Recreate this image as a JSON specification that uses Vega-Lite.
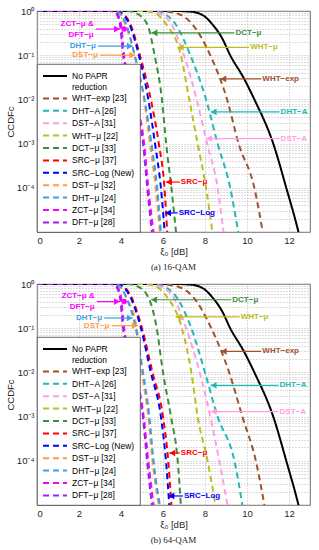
{
"$schema": "https://vega.github.io/schema/vega-lite/v6.json",
"padding": {"left": 4, "top": 5, "right": 2, "bottom": 2},
"background": "white",
"datasets": {
"curves": [
{"panel":"a","series":"No PAPR reduction","x":0,"y":1},
{"panel":"a","series":"No PAPR reduction","x":6.5,"y":1},
{"panel":"a","series":"No PAPR reduction","x":7.3,"y":0.97},
{"panel":"a","series":"No PAPR reduction","x":7.9,"y":0.8},
{"panel":"a","series":"No PAPR reduction","x":8.35,"y":0.5},
{"panel":"a","series":"No PAPR reduction","x":8.8,"y":0.25},
{"panel":"a","series":"No PAPR reduction","x":9.2,"y":0.1},
{"panel":"a","series":"No PAPR reduction","x":9.85,"y":0.03},
{"panel":"a","series":"No PAPR reduction","x":10.35,"y":0.01},
{"panel":"a","series":"No PAPR reduction","x":11.25,"y":0.001},
{"panel":"a","series":"No PAPR reduction","x":11.87,"y":0.0001},
{"panel":"a","series":"No PAPR reduction","x":12.45,"y":0.00001},
{"panel":"a","series":"No PAPR reduction","x":12.6,"y":0.000005},
{"panel":"a","series":"WHT−exp [23]","x":0,"y":1},
{"panel":"a","series":"WHT−exp [23]","x":5.8,"y":1},
{"panel":"a","series":"WHT−exp [23]","x":6.6,"y":0.9},
{"panel":"a","series":"WHT−exp [23]","x":7.4,"y":0.5},
{"panel":"a","series":"WHT−exp [23]","x":8.25,"y":0.1},
{"panel":"a","series":"WHT−exp [23]","x":9.05,"y":0.01},
{"panel":"a","series":"WHT−exp [23]","x":9.6,"y":0.001},
{"panel":"a","series":"WHT−exp [23]","x":10.35,"y":0.0001},
{"panel":"a","series":"WHT−exp [23]","x":10.75,"y":0.00001},
{"panel":"a","series":"DHT−A [26]","x":0,"y":1},
{"panel":"a","series":"DHT−A [26]","x":5.3,"y":1},
{"panel":"a","series":"DHT−A [26]","x":5.95,"y":0.9},
{"panel":"a","series":"DHT−A [26]","x":6.6,"y":0.5},
{"panel":"a","series":"DHT−A [26]","x":7.3,"y":0.1},
{"panel":"a","series":"DHT−A [26]","x":8.05,"y":0.01},
{"panel":"a","series":"DHT−A [26]","x":8.6,"y":0.001},
{"panel":"a","series":"DHT−A [26]","x":9.2,"y":0.0001},
{"panel":"a","series":"DHT−A [26]","x":9.58,"y":0.00001},
{"panel":"a","series":"DST−A [31]","x":0,"y":1},
{"panel":"a","series":"DST−A [31]","x":5.2,"y":1},
{"panel":"a","series":"DST−A [31]","x":5.8,"y":0.9},
{"panel":"a","series":"DST−A [31]","x":6.4,"y":0.5},
{"panel":"a","series":"DST−A [31]","x":7.0,"y":0.1},
{"panel":"a","series":"DST−A [31]","x":7.6,"y":0.01},
{"panel":"a","series":"DST−A [31]","x":8.1,"y":0.001},
{"panel":"a","series":"DST−A [31]","x":8.6,"y":0.0001},
{"panel":"a","series":"DST−A [31]","x":8.88,"y":0.00001},
{"panel":"a","series":"WHT−μ [22]","x":0,"y":1},
{"panel":"a","series":"WHT−μ [22]","x":5.0,"y":1},
{"panel":"a","series":"WHT−μ [22]","x":5.6,"y":0.9},
{"panel":"a","series":"WHT−μ [22]","x":6.15,"y":0.5},
{"panel":"a","series":"WHT−μ [22]","x":6.85,"y":0.1},
{"panel":"a","series":"WHT−μ [22]","x":7.25,"y":0.01},
{"panel":"a","series":"WHT−μ [22]","x":7.65,"y":0.001},
{"panel":"a","series":"WHT−μ [22]","x":8.05,"y":0.0001},
{"panel":"a","series":"WHT−μ [22]","x":8.35,"y":0.00001},
{"panel":"a","series":"DCT−μ [33]","x":0,"y":1},
{"panel":"a","series":"DCT−μ [33]","x":4.3,"y":1},
{"panel":"a","series":"DCT−μ [33]","x":4.7,"y":0.9},
{"panel":"a","series":"DCT−μ [33]","x":5.25,"y":0.5},
{"panel":"a","series":"DCT−μ [33]","x":5.6,"y":0.1},
{"panel":"a","series":"DCT−μ [33]","x":5.95,"y":0.01},
{"panel":"a","series":"DCT−μ [33]","x":6.15,"y":0.001},
{"panel":"a","series":"DCT−μ [33]","x":6.4,"y":0.0001},
{"panel":"a","series":"DCT−μ [33]","x":6.62,"y":0.00001},
{"panel":"a","series":"SRC−μ [37]","x":0,"y":1},
{"panel":"a","series":"SRC−μ [37]","x":3.75,"y":1},
{"panel":"a","series":"SRC−μ [37]","x":4.05,"y":0.9},
{"panel":"a","series":"SRC−μ [37]","x":4.45,"y":0.5},
{"panel":"a","series":"SRC−μ [37]","x":4.9,"y":0.1},
{"panel":"a","series":"SRC−μ [37]","x":5.42,"y":0.01},
{"panel":"a","series":"SRC−μ [37]","x":5.8,"y":0.001},
{"panel":"a","series":"SRC−μ [37]","x":6.07,"y":0.0001},
{"panel":"a","series":"SRC−μ [37]","x":6.2,"y":0.00001},
{"panel":"a","series":"SRC−Log (New)","x":0,"y":1},
{"panel":"a","series":"SRC−Log (New)","x":3.7,"y":1},
{"panel":"a","series":"SRC−Log (New)","x":4.0,"y":0.9},
{"panel":"a","series":"SRC−Log (New)","x":4.4,"y":0.5},
{"panel":"a","series":"SRC−Log (New)","x":4.85,"y":0.1},
{"panel":"a","series":"SRC−Log (New)","x":5.3,"y":0.01},
{"panel":"a","series":"SRC−Log (New)","x":5.62,"y":0.001},
{"panel":"a","series":"SRC−Log (New)","x":5.9,"y":0.0001},
{"panel":"a","series":"SRC−Log (New)","x":6.08,"y":0.00001},
{"panel":"a","series":"DST−μ [32]","x":0,"y":1},
{"panel":"a","series":"DST−μ [32]","x":3.6,"y":1},
{"panel":"a","series":"DST−μ [32]","x":3.9,"y":0.9},
{"panel":"a","series":"DST−μ [32]","x":4.2,"y":0.5},
{"panel":"a","series":"DST−μ [32]","x":4.65,"y":0.1},
{"panel":"a","series":"DST−μ [32]","x":5.1,"y":0.01},
{"panel":"a","series":"DST−μ [32]","x":5.38,"y":0.001},
{"panel":"a","series":"DST−μ [32]","x":5.65,"y":0.0001},
{"panel":"a","series":"DST−μ [32]","x":5.85,"y":0.00001},
{"panel":"a","series":"DHT−μ [24]","x":0,"y":1},
{"panel":"a","series":"DHT−μ [24]","x":3.65,"y":1},
{"panel":"a","series":"DHT−μ [24]","x":3.95,"y":0.9},
{"panel":"a","series":"DHT−μ [24]","x":4.25,"y":0.5},
{"panel":"a","series":"DHT−μ [24]","x":4.65,"y":0.1},
{"panel":"a","series":"DHT−μ [24]","x":5.12,"y":0.01},
{"panel":"a","series":"DHT−μ [24]","x":5.45,"y":0.001},
{"panel":"a","series":"DHT−μ [24]","x":5.72,"y":0.0001},
{"panel":"a","series":"DHT−μ [24]","x":5.9,"y":0.00001},
{"panel":"a","series":"ZCT−μ [34]","x":0,"y":1},
{"panel":"a","series":"ZCT−μ [34]","x":3.55,"y":1},
{"panel":"a","series":"ZCT−μ [34]","x":3.8,"y":0.9},
{"panel":"a","series":"ZCT−μ [34]","x":4.0,"y":0.5},
{"panel":"a","series":"ZCT−μ [34]","x":4.15,"y":0.1},
{"panel":"a","series":"ZCT−μ [34]","x":4.7,"y":0.01},
{"panel":"a","series":"ZCT−μ [34]","x":5.1,"y":0.001},
{"panel":"a","series":"ZCT−μ [34]","x":5.3,"y":0.0001},
{"panel":"a","series":"ZCT−μ [34]","x":5.55,"y":0.00001},
{"panel":"a","series":"DFT−μ [28]","x":0,"y":1},
{"panel":"a","series":"DFT−μ [28]","x":3.5,"y":1},
{"panel":"a","series":"DFT−μ [28]","x":3.75,"y":0.9},
{"panel":"a","series":"DFT−μ [28]","x":3.95,"y":0.5},
{"panel":"a","series":"DFT−μ [28]","x":4.1,"y":0.1},
{"panel":"a","series":"DFT−μ [28]","x":4.65,"y":0.01},
{"panel":"a","series":"DFT−μ [28]","x":5.05,"y":0.001},
{"panel":"a","series":"DFT−μ [28]","x":5.25,"y":0.0001},
{"panel":"a","series":"DFT−μ [28]","x":5.47,"y":0.00001},
{"panel":"b","series":"No PAPR reduction","x":0,"y":1},
{"panel":"b","series":"No PAPR reduction","x":6.5,"y":1},
{"panel":"b","series":"No PAPR reduction","x":7.3,"y":0.97},
{"panel":"b","series":"No PAPR reduction","x":7.9,"y":0.8},
{"panel":"b","series":"No PAPR reduction","x":8.35,"y":0.5},
{"panel":"b","series":"No PAPR reduction","x":8.8,"y":0.25},
{"panel":"b","series":"No PAPR reduction","x":9.2,"y":0.1},
{"panel":"b","series":"No PAPR reduction","x":9.85,"y":0.03},
{"panel":"b","series":"No PAPR reduction","x":10.35,"y":0.01},
{"panel":"b","series":"No PAPR reduction","x":11.25,"y":0.001},
{"panel":"b","series":"No PAPR reduction","x":11.87,"y":0.0001},
{"panel":"b","series":"No PAPR reduction","x":12.45,"y":0.00001},
{"panel":"b","series":"No PAPR reduction","x":12.6,"y":0.000005},
{"panel":"b","series":"WHT−exp [23]","x":0,"y":1},
{"panel":"b","series":"WHT−exp [23]","x":5.8,"y":1},
{"panel":"b","series":"WHT−exp [23]","x":6.6,"y":0.9},
{"panel":"b","series":"WHT−exp [23]","x":7.45,"y":0.5},
{"panel":"b","series":"WHT−exp [23]","x":8.3,"y":0.1},
{"panel":"b","series":"WHT−exp [23]","x":9.15,"y":0.01},
{"panel":"b","series":"WHT−exp [23]","x":9.78,"y":0.001},
{"panel":"b","series":"WHT−exp [23]","x":10.42,"y":0.0001},
{"panel":"b","series":"WHT−exp [23]","x":10.83,"y":0.00001},
{"panel":"b","series":"DHT−A [26]","x":0,"y":1},
{"panel":"b","series":"DHT−A [26]","x":5.3,"y":1},
{"panel":"b","series":"DHT−A [26]","x":5.95,"y":0.9},
{"panel":"b","series":"DHT−A [26]","x":6.65,"y":0.5},
{"panel":"b","series":"DHT−A [26]","x":7.35,"y":0.1},
{"panel":"b","series":"DHT−A [26]","x":8.0,"y":0.01},
{"panel":"b","series":"DHT−A [26]","x":8.6,"y":0.001},
{"panel":"b","series":"DHT−A [26]","x":9.4,"y":0.0001},
{"panel":"b","series":"DHT−A [26]","x":9.78,"y":0.00001},
{"panel":"b","series":"DST−A [31]","x":0,"y":1},
{"panel":"b","series":"DST−A [31]","x":5.2,"y":1},
{"panel":"b","series":"DST−A [31]","x":5.8,"y":0.9},
{"panel":"b","series":"DST−A [31]","x":6.5,"y":0.5},
{"panel":"b","series":"DST−A [31]","x":7.1,"y":0.1},
{"panel":"b","series":"DST−A [31]","x":7.75,"y":0.01},
{"panel":"b","series":"DST−A [31]","x":8.25,"y":0.001},
{"panel":"b","series":"DST−A [31]","x":8.68,"y":0.0001},
{"panel":"b","series":"DST−A [31]","x":9.07,"y":0.00001},
{"panel":"b","series":"WHT−μ [22]","x":0,"y":1},
{"panel":"b","series":"WHT−μ [22]","x":5.0,"y":1},
{"panel":"b","series":"WHT−μ [22]","x":5.6,"y":0.9},
{"panel":"b","series":"WHT−μ [22]","x":6.2,"y":0.5},
{"panel":"b","series":"WHT−μ [22]","x":6.9,"y":0.1},
{"panel":"b","series":"WHT−μ [22]","x":7.35,"y":0.01},
{"panel":"b","series":"WHT−μ [22]","x":7.65,"y":0.001},
{"panel":"b","series":"WHT−μ [22]","x":8.12,"y":0.0001},
{"panel":"b","series":"WHT−μ [22]","x":8.5,"y":0.00001},
{"panel":"b","series":"DCT−μ [33]","x":0,"y":1},
{"panel":"b","series":"DCT−μ [33]","x":4.3,"y":1},
{"panel":"b","series":"DCT−μ [33]","x":4.75,"y":0.9},
{"panel":"b","series":"DCT−μ [33]","x":5.3,"y":0.5},
{"panel":"b","series":"DCT−μ [33]","x":5.7,"y":0.1},
{"panel":"b","series":"DCT−μ [33]","x":6.0,"y":0.01},
{"panel":"b","series":"DCT−μ [33]","x":6.38,"y":0.001},
{"panel":"b","series":"DCT−μ [33]","x":6.7,"y":0.0001},
{"panel":"b","series":"DCT−μ [33]","x":6.85,"y":0.00001},
{"panel":"b","series":"SRC−μ [37]","x":0,"y":1},
{"panel":"b","series":"SRC−μ [37]","x":3.8,"y":1},
{"panel":"b","series":"SRC−μ [37]","x":4.1,"y":0.9},
{"panel":"b","series":"SRC−μ [37]","x":4.5,"y":0.5},
{"panel":"b","series":"SRC−μ [37]","x":5.0,"y":0.1},
{"panel":"b","series":"SRC−μ [37]","x":5.5,"y":0.01},
{"panel":"b","series":"SRC−μ [37]","x":6.0,"y":0.001},
{"panel":"b","series":"SRC−μ [37]","x":6.25,"y":0.0001},
{"panel":"b","series":"SRC−μ [37]","x":6.4,"y":0.00001},
{"panel":"b","series":"SRC−Log (New)","x":0,"y":1},
{"panel":"b","series":"SRC−Log (New)","x":3.75,"y":1},
{"panel":"b","series":"SRC−Log (New)","x":4.05,"y":0.9},
{"panel":"b","series":"SRC−Log (New)","x":4.45,"y":0.5},
{"panel":"b","series":"SRC−Log (New)","x":4.95,"y":0.1},
{"panel":"b","series":"SRC−Log (New)","x":5.42,"y":0.01},
{"panel":"b","series":"SRC−Log (New)","x":5.9,"y":0.001},
{"panel":"b","series":"SRC−Log (New)","x":6.14,"y":0.0001},
{"panel":"b","series":"SRC−Log (New)","x":6.3,"y":0.00001},
{"panel":"b","series":"DST−μ [32]","x":0,"y":1},
{"panel":"b","series":"DST−μ [32]","x":3.6,"y":1},
{"panel":"b","series":"DST−μ [32]","x":3.9,"y":0.9},
{"panel":"b","series":"DST−μ [32]","x":4.25,"y":0.5},
{"panel":"b","series":"DST−μ [32]","x":4.75,"y":0.1},
{"panel":"b","series":"DST−μ [32]","x":5.0,"y":0.01},
{"panel":"b","series":"DST−μ [32]","x":5.3,"y":0.001},
{"panel":"b","series":"DST−μ [32]","x":5.5,"y":0.0001},
{"panel":"b","series":"DST−μ [32]","x":5.8,"y":0.00001},
{"panel":"b","series":"DHT−μ [24]","x":0,"y":1},
{"panel":"b","series":"DHT−μ [24]","x":3.65,"y":1},
{"panel":"b","series":"DHT−μ [24]","x":3.95,"y":0.9},
{"panel":"b","series":"DHT−μ [24]","x":4.25,"y":0.5},
{"panel":"b","series":"DHT−μ [24]","x":4.7,"y":0.1},
{"panel":"b","series":"DHT−μ [24]","x":5.05,"y":0.01},
{"panel":"b","series":"DHT−μ [24]","x":5.35,"y":0.001},
{"panel":"b","series":"DHT−μ [24]","x":5.55,"y":0.0001},
{"panel":"b","series":"DHT−μ [24]","x":5.85,"y":0.00001},
{"panel":"b","series":"ZCT−μ [34]","x":0,"y":1},
{"panel":"b","series":"ZCT−μ [34]","x":3.55,"y":1},
{"panel":"b","series":"ZCT−μ [34]","x":3.8,"y":0.9},
{"panel":"b","series":"ZCT−μ [34]","x":4.0,"y":0.5},
{"panel":"b","series":"ZCT−μ [34]","x":4.15,"y":0.1},
{"panel":"b","series":"ZCT−μ [34]","x":4.7,"y":0.01},
{"panel":"b","series":"ZCT−μ [34]","x":5.08,"y":0.001},
{"panel":"b","series":"ZCT−μ [34]","x":5.3,"y":0.0001},
{"panel":"b","series":"ZCT−μ [34]","x":5.55,"y":0.00001},
{"panel":"b","series":"DFT−μ [28]","x":0,"y":1},
{"panel":"b","series":"DFT−μ [28]","x":3.5,"y":1},
{"panel":"b","series":"DFT−μ [28]","x":3.75,"y":0.9},
{"panel":"b","series":"DFT−μ [28]","x":3.95,"y":0.5},
{"panel":"b","series":"DFT−μ [28]","x":4.1,"y":0.1},
{"panel":"b","series":"DFT−μ [28]","x":4.65,"y":0.01},
{"panel":"b","series":"DFT−μ [28]","x":5.04,"y":0.001},
{"panel":"b","series":"DFT−μ [28]","x":5.24,"y":0.0001},
{"panel":"b","series":"DFT−μ [28]","x":5.47,"y":0.00001}
],
"notes": [
{"panel":"a","series":"ZCT−μ [34]","label":"ZCT−μ &\nDFT−μ","y":0.39,"xLabel":2.7,"xTail":2.8,"xTip":3.95,"dir":"right","xMark":4.15},
{"panel":"a","series":"DHT−μ [24]","label":"DHT−μ","y":0.16,"xLabel":2.8,"xTail":2.9,"xTip":4.56,"dir":"right"},
{"panel":"a","series":"DST−μ [32]","label":"DST−μ","y":0.1,"xLabel":2.9,"xTail":3.0,"xTip":4.68,"dir":"right"},
{"panel":"a","series":"DCT−μ [33]","label":"DCT−μ","y":0.32,"xLabel":9.45,"xTail":9.4,"xTip":5.45,"dir":"left"},
{"panel":"a","series":"WHT−μ [22]","label":"WHT−μ","y":0.15,"xLabel":10.15,"xTail":10.1,"xTip":6.7,"dir":"left"},
{"panel":"a","series":"WHT−exp [23]","label":"WHT−exp","y":0.029,"xLabel":10.73,"xTail":10.68,"xTip":8.73,"dir":"left"},
{"panel":"a","series":"DHT−A [26]","label":"DHT−A","y":0.0052,"xLabel":11.6,"xTail":11.55,"xTip":8.27,"dir":"left"},
{"panel":"a","series":"DST−A [31]","label":"DST−A","y":0.0013,"xLabel":11.6,"xTail":11.55,"xTip":8.05,"dir":"left"},
{"panel":"a","series":"SRC−μ [37]","label":"SRC−μ","y":0.000135,"xLabel":6.85,"xTail":6.8,"xTip":6.14,"dir":"left"},
{"panel":"a","series":"SRC−Log (New)","label":"SRC−Log","y":0.000027,"xLabel":6.75,"xTail":6.7,"xTip":6.1,"dir":"left"},
{"panel":"b","series":"ZCT−μ [34]","label":"ZCT−μ &\nDFT−μ","y":0.4,"xLabel":2.75,"xTail":2.85,"xTip":3.95,"dir":"right","xMark":4.15},
{"panel":"b","series":"DHT−μ [24]","label":"DHT−μ","y":0.17,"xLabel":3.1,"xTail":3.2,"xTip":4.56,"dir":"right"},
{"panel":"b","series":"DST−μ [32]","label":"DST−μ","y":0.114,"xLabel":3.45,"xTail":3.55,"xTip":4.8,"dir":"right"},
{"panel":"b","series":"DCT−μ [33]","label":"DCT−μ","y":0.44,"xLabel":9.3,"xTail":9.25,"xTip":5.43,"dir":"left"},
{"panel":"b","series":"WHT−μ [22]","label":"WHT−μ","y":0.18,"xLabel":9.7,"xTail":9.65,"xTip":6.6,"dir":"left"},
{"panel":"b","series":"WHT−exp [23]","label":"WHT−exp","y":0.03,"xLabel":10.73,"xTail":10.68,"xTip":8.75,"dir":"left"},
{"panel":"b","series":"DHT−A [26]","label":"DHT−A","y":0.0051,"xLabel":11.55,"xTail":11.5,"xTip":8.27,"dir":"left"},
{"panel":"b","series":"DST−A [31]","label":"DST−A","y":0.0013,"xLabel":11.55,"xTail":11.5,"xTip":8.27,"dir":"left"},
{"panel":"b","series":"SRC−μ [37]","label":"SRC−μ","y":0.00015,"xLabel":6.85,"xTail":6.8,"xTip":6.3,"dir":"left"},
{"panel":"b","series":"SRC−Log (New)","label":"SRC−Log","y":0.000016,"xLabel":7.0,"xTail":6.95,"xTip":6.26,"dir":"left"}
]
},
"vconcat": [
{
"width": 273, "height": 221,
"title": {"text": "(a) 16-QAM", "orient": "bottom", "frame": "group", "offset": 7},
"layer": [
{"data": {"name": "curves"}, "transform": [{"filter": "datum.panel == 'a'"}],
 "mark": {"type": "line", "clip": true, "interpolate": "monotone", "strokeWidth": 2},
 "encoding": {
  "x": {"field": "x", "type": "quantitative", "scale": {"domain": [0, 13], "nice": false, "zero": false},
        "axis": {"values": [0,0.5,1,1.5,2,2.5,3,3.5,4,4.5,5,5.5,6,6.5,7,7.5,8,8.5,9,9.5,10,10.5,11,11.5,12,12.5,13], "format": "d", "labelExpr": "datum.value % 2 == 0 && datum.value < 13 ? datum.label : ''", "title": "ξ₀  [dB]"}},
  "y": {"field": "y", "type": "quantitative", "scale": {"type": "log", "domain": [0.00001, 1], "nice": false},
        "axis": {"values": [0.00001,0.00002,0.00003,0.00004,0.00005,0.00006,0.00007,0.00008,0.00009,0.0001,0.0002,0.0003,0.0004,0.0005,0.0006,0.0007,0.0008,0.0009,0.001,0.002,0.003,0.004,0.005,0.006,0.007,0.008,0.009,0.01,0.02,0.03,0.04,0.05,0.06,0.07,0.08,0.09,0.1,0.2,0.3,0.4,0.5,0.6,0.7,0.8,0.9,1],
                 "labelExpr": "datum.value == 1 ? '10⁰' : datum.value == 0.1 ? '10⁻¹' : datum.value == 0.01 ? '10⁻²' : datum.value == 0.001 ? '10⁻³' : datum.value == 0.0001 ? '10⁻⁴' : ''", "title": "CCDFc"}},
  "color": {"field": "series", "type": "nominal",
            "scale": {"domain": ["No PAPR reduction","WHT−exp [23]","DHT−A [26]","DST−A [31]","WHT−μ [22]","DCT−μ [33]","SRC−μ [37]","SRC−Log (New)","DST−μ [32]","DHT−μ [24]","ZCT−μ [34]","DFT−μ [28]"],
                      "range": ["#000000","#A0522D","#20B8B8","#FF9EE6","#BDBD1E","#3A8F3A","#FF0000","#0000FF","#FF9A45","#3D9EE0","#FF00FF","#A020F0"]},
            "legend": {"title": null, "labelExpr": "datum.label == 'No PAPR reduction' ? ['No PAPR', 'reduction'] : datum.label"}},
  "strokeDash": {"field": "series", "type": "nominal",
            "scale": {"domain": ["No PAPR reduction","WHT−exp [23]","DHT−A [26]","DST−A [31]","WHT−μ [22]","DCT−μ [33]","SRC−μ [37]","SRC−Log (New)","DST−μ [32]","DHT−μ [24]","ZCT−μ [34]","DFT−μ [28]"],
                      "range": [[1,0],[6,4],[6,4],[6,4],[6,4],[6,4],[6,4],[6,4],[6,4],[6,4],[6,4],[6,4]]},
            "legend": {"title": null, "labelExpr": "datum.label == 'No PAPR reduction' ? ['No PAPR', 'reduction'] : datum.label"}}
 }},
{"data": {"name": "notes"}, "transform": [{"filter": "datum.panel == 'a'"}],
 "mark": {"type": "rule", "strokeWidth": 1.2},
 "encoding": {
  "x": {"field": "xTail", "type": "quantitative", "scale": {"domain": [0, 13], "nice": false, "zero": false}},
  "x2": {"field": "xTip"},
  "y": {"field": "y", "type": "quantitative", "scale": {"type": "log", "domain": [0.00001, 1], "nice": false}},
  "color": {"field": "series", "type": "nominal", "legend": null,
            "scale": {"domain": ["No PAPR reduction","WHT−exp [23]","DHT−A [26]","DST−A [31]","WHT−μ [22]","DCT−μ [33]","SRC−μ [37]","SRC−Log (New)","DST−μ [32]","DHT−μ [24]","ZCT−μ [34]","DFT−μ [28]"],
                      "range": ["#000000","#A0522D","#20B8B8","#FF9EE6","#BDBD1E","#3A8F3A","#FF0000","#0000FF","#FF9A45","#3D9EE0","#FF00FF","#A020F0"]}}
 }},
{"data": {"name": "notes"}, "transform": [{"filter": "datum.panel == 'a' && datum.dir == 'right'"}],
 "mark": {"type": "point", "shape": "triangle-right", "filled": true, "size": 45, "opacity": 1, "xOffset": -3},
 "encoding": {
  "x": {"field": "xTip", "type": "quantitative", "scale": {"domain": [0, 13], "nice": false, "zero": false}},
  "y": {"field": "y", "type": "quantitative", "scale": {"type": "log", "domain": [0.00001, 1], "nice": false}},
  "color": {"field": "series", "type": "nominal", "legend": null,
            "scale": {"domain": ["No PAPR reduction","WHT−exp [23]","DHT−A [26]","DST−A [31]","WHT−μ [22]","DCT−μ [33]","SRC−μ [37]","SRC−Log (New)","DST−μ [32]","DHT−μ [24]","ZCT−μ [34]","DFT−μ [28]"],
                      "range": ["#000000","#A0522D","#20B8B8","#FF9EE6","#BDBD1E","#3A8F3A","#FF0000","#0000FF","#FF9A45","#3D9EE0","#FF00FF","#A020F0"]}}
 }},
{"data": {"name": "notes"}, "transform": [{"filter": "datum.panel == 'a' && datum.dir == 'left'"}],
 "mark": {"type": "point", "shape": "triangle-left", "filled": true, "size": 45, "opacity": 1, "xOffset": 3},
 "encoding": {
  "x": {"field": "xTip", "type": "quantitative", "scale": {"domain": [0, 13], "nice": false, "zero": false}},
  "y": {"field": "y", "type": "quantitative", "scale": {"type": "log", "domain": [0.00001, 1], "nice": false}},
  "color": {"field": "series", "type": "nominal", "legend": null,
            "scale": {"domain": ["No PAPR reduction","WHT−exp [23]","DHT−A [26]","DST−A [31]","WHT−μ [22]","DCT−μ [33]","SRC−μ [37]","SRC−Log (New)","DST−μ [32]","DHT−μ [24]","ZCT−μ [34]","DFT−μ [28]"],
                      "range": ["#000000","#A0522D","#20B8B8","#FF9EE6","#BDBD1E","#3A8F3A","#FF0000","#0000FF","#FF9A45","#3D9EE0","#FF00FF","#A020F0"]}}
 }},
{"data": {"name": "notes"}, "transform": [{"filter": "datum.panel == 'a' && isValid(datum.xMark)"}],
 "mark": {"type": "point", "shape": "circle", "filled": true, "size": 30, "opacity": 1},
 "encoding": {
  "x": {"field": "xMark", "type": "quantitative", "scale": {"domain": [0, 13], "nice": false, "zero": false}},
  "y": {"field": "y", "type": "quantitative", "scale": {"type": "log", "domain": [0.00001, 1], "nice": false}},
  "color": {"field": "series", "type": "nominal", "legend": null,
            "scale": {"domain": ["No PAPR reduction","WHT−exp [23]","DHT−A [26]","DST−A [31]","WHT−μ [22]","DCT−μ [33]","SRC−μ [37]","SRC−Log (New)","DST−μ [32]","DHT−μ [24]","ZCT−μ [34]","DFT−μ [28]"],
                      "range": ["#000000","#A0522D","#20B8B8","#FF9EE6","#BDBD1E","#3A8F3A","#FF0000","#0000FF","#FF9A45","#3D9EE0","#FF00FF","#A020F0"]}}
 }},
{"data": {"name": "notes"}, "transform": [{"filter": "datum.panel == 'a' && datum.dir == 'right' && !isValid(datum.xMark)"}],
 "mark": {"type": "text", "align": "right", "baseline": "middle", "fontSize": 8, "fontWeight": "bold"},
 "encoding": {
  "x": {"field": "xLabel", "type": "quantitative", "scale": {"domain": [0, 13], "nice": false, "zero": false}},
  "y": {"field": "y", "type": "quantitative", "scale": {"type": "log", "domain": [0.00001, 1], "nice": false}},
  "text": {"field": "label"},
  "color": {"field": "series", "type": "nominal", "legend": null,
            "scale": {"domain": ["No PAPR reduction","WHT−exp [23]","DHT−A [26]","DST−A [31]","WHT−μ [22]","DCT−μ [33]","SRC−μ [37]","SRC−Log (New)","DST−μ [32]","DHT−μ [24]","ZCT−μ [34]","DFT−μ [28]"],
                      "range": ["#000000","#A0522D","#20B8B8","#FF9EE6","#BDBD1E","#3A8F3A","#FF0000","#0000FF","#FF9A45","#3D9EE0","#FF00FF","#A020F0"]}}
 }},
{"data": {"name": "notes"}, "transform": [{"filter": "datum.panel == 'a' && isValid(datum.xMark)"}],
 "mark": {"type": "text", "align": "right", "baseline": "middle", "fontSize": 8, "fontWeight": "bold", "lineBreak": "\n", "lineHeight": 11, "dy": -5.5},
 "encoding": {
  "x": {"field": "xLabel", "type": "quantitative", "scale": {"domain": [0, 13], "nice": false, "zero": false}},
  "y": {"field": "y", "type": "quantitative", "scale": {"type": "log", "domain": [0.00001, 1], "nice": false}},
  "text": {"field": "label"},
  "color": {"field": "series", "type": "nominal", "legend": null,
            "scale": {"domain": ["No PAPR reduction","WHT−exp [23]","DHT−A [26]","DST−A [31]","WHT−μ [22]","DCT−μ [33]","SRC−μ [37]","SRC−Log (New)","DST−μ [32]","DHT−μ [24]","ZCT−μ [34]","DFT−μ [28]"],
                      "range": ["#000000","#A0522D","#20B8B8","#FF9EE6","#BDBD1E","#3A8F3A","#FF0000","#0000FF","#FF9A45","#3D9EE0","#FF00FF","#A020F0"]}}
 }},
{"data": {"name": "notes"}, "transform": [{"filter": "datum.panel == 'a' && datum.dir == 'left'"}],
 "mark": {"type": "text", "align": "left", "baseline": "middle", "fontSize": 8, "fontWeight": "bold"},
 "encoding": {
  "x": {"field": "xLabel", "type": "quantitative", "scale": {"domain": [0, 13], "nice": false, "zero": false}},
  "y": {"field": "y", "type": "quantitative", "scale": {"type": "log", "domain": [0.00001, 1], "nice": false}},
  "text": {"field": "label"},
  "color": {"field": "series", "type": "nominal", "legend": null,
            "scale": {"domain": ["No PAPR reduction","WHT−exp [23]","DHT−A [26]","DST−A [31]","WHT−μ [22]","DCT−μ [33]","SRC−μ [37]","SRC−Log (New)","DST−μ [32]","DHT−μ [24]","ZCT−μ [34]","DFT−μ [28]"],
                      "range": ["#000000","#A0522D","#20B8B8","#FF9EE6","#BDBD1E","#3A8F3A","#FF0000","#0000FF","#FF9A45","#3D9EE0","#FF00FF","#A020F0"]}}
 }}
]
},
{
"width": 273, "height": 221,
"title": {"text": "(b) 64-QAM", "orient": "bottom", "frame": "group", "offset": 7},
"layer": [
{"data": {"name": "curves"}, "transform": [{"filter": "datum.panel == 'b'"}],
 "mark": {"type": "line", "clip": true, "interpolate": "monotone", "strokeWidth": 2},
 "encoding": {
  "x": {"field": "x", "type": "quantitative", "scale": {"domain": [0, 13], "nice": false, "zero": false},
        "axis": {"values": [0,0.5,1,1.5,2,2.5,3,3.5,4,4.5,5,5.5,6,6.5,7,7.5,8,8.5,9,9.5,10,10.5,11,11.5,12,12.5,13], "format": "d", "labelExpr": "datum.value % 2 == 0 && datum.value < 13 ? datum.label : ''", "title": "ξ₀  [dB]"}},
  "y": {"field": "y", "type": "quantitative", "scale": {"type": "log", "domain": [0.00001, 1], "nice": false},
        "axis": {"values": [0.00001,0.00002,0.00003,0.00004,0.00005,0.00006,0.00007,0.00008,0.00009,0.0001,0.0002,0.0003,0.0004,0.0005,0.0006,0.0007,0.0008,0.0009,0.001,0.002,0.003,0.004,0.005,0.006,0.007,0.008,0.009,0.01,0.02,0.03,0.04,0.05,0.06,0.07,0.08,0.09,0.1,0.2,0.3,0.4,0.5,0.6,0.7,0.8,0.9,1],
                 "labelExpr": "datum.value == 1 ? '10⁰' : datum.value == 0.1 ? '10⁻¹' : datum.value == 0.01 ? '10⁻²' : datum.value == 0.001 ? '10⁻³' : datum.value == 0.0001 ? '10⁻⁴' : ''", "title": "CCDFc"}},
  "color": {"field": "series", "type": "nominal",
            "scale": {"domain": ["No PAPR reduction","WHT−exp [23]","DHT−A [26]","DST−A [31]","WHT−μ [22]","DCT−μ [33]","SRC−μ [37]","SRC−Log (New)","DST−μ [32]","DHT−μ [24]","ZCT−μ [34]","DFT−μ [28]"],
                      "range": ["#000000","#A0522D","#20B8B8","#FF9EE6","#BDBD1E","#3A8F3A","#FF0000","#0000FF","#FF9A45","#3D9EE0","#FF00FF","#A020F0"]},
            "legend": {"title": null, "labelExpr": "datum.label == 'No PAPR reduction' ? ['No PAPR', 'reduction'] : datum.label"}},
  "strokeDash": {"field": "series", "type": "nominal",
            "scale": {"domain": ["No PAPR reduction","WHT−exp [23]","DHT−A [26]","DST−A [31]","WHT−μ [22]","DCT−μ [33]","SRC−μ [37]","SRC−Log (New)","DST−μ [32]","DHT−μ [24]","ZCT−μ [34]","DFT−μ [28]"],
                      "range": [[1,0],[6,4],[6,4],[6,4],[6,4],[6,4],[6,4],[6,4],[6,4],[6,4],[6,4],[6,4]]},
            "legend": {"title": null, "labelExpr": "datum.label == 'No PAPR reduction' ? ['No PAPR', 'reduction'] : datum.label"}}
 }},
{"data": {"name": "notes"}, "transform": [{"filter": "datum.panel == 'b'"}],
 "mark": {"type": "rule", "strokeWidth": 1.2},
 "encoding": {
  "x": {"field": "xTail", "type": "quantitative", "scale": {"domain": [0, 13], "nice": false, "zero": false}},
  "x2": {"field": "xTip"},
  "y": {"field": "y", "type": "quantitative", "scale": {"type": "log", "domain": [0.00001, 1], "nice": false}},
  "color": {"field": "series", "type": "nominal", "legend": null,
            "scale": {"domain": ["No PAPR reduction","WHT−exp [23]","DHT−A [26]","DST−A [31]","WHT−μ [22]","DCT−μ [33]","SRC−μ [37]","SRC−Log (New)","DST−μ [32]","DHT−μ [24]","ZCT−μ [34]","DFT−μ [28]"],
                      "range": ["#000000","#A0522D","#20B8B8","#FF9EE6","#BDBD1E","#3A8F3A","#FF0000","#0000FF","#FF9A45","#00D8F0","#FF00FF","#A020F0"]}}
 }},
{"data": {"name": "notes"}, "transform": [{"filter": "datum.panel == 'b' && datum.dir == 'right'"}],
 "mark": {"type": "point", "shape": "triangle-right", "filled": true, "size": 45, "opacity": 1, "xOffset": -3},
 "encoding": {
  "x": {"field": "xTip", "type": "quantitative", "scale": {"domain": [0, 13], "nice": false, "zero": false}},
  "y": {"field": "y", "type": "quantitative", "scale": {"type": "log", "domain": [0.00001, 1], "nice": false}},
  "color": {"field": "series", "type": "nominal", "legend": null,
            "scale": {"domain": ["No PAPR reduction","WHT−exp [23]","DHT−A [26]","DST−A [31]","WHT−μ [22]","DCT−μ [33]","SRC−μ [37]","SRC−Log (New)","DST−μ [32]","DHT−μ [24]","ZCT−μ [34]","DFT−μ [28]"],
                      "range": ["#000000","#A0522D","#20B8B8","#FF9EE6","#BDBD1E","#3A8F3A","#FF0000","#0000FF","#FF9A45","#00D8F0","#FF00FF","#A020F0"]}}
 }},
{"data": {"name": "notes"}, "transform": [{"filter": "datum.panel == 'b' && datum.dir == 'left'"}],
 "mark": {"type": "point", "shape": "triangle-left", "filled": true, "size": 45, "opacity": 1, "xOffset": 3},
 "encoding": {
  "x": {"field": "xTip", "type": "quantitative", "scale": {"domain": [0, 13], "nice": false, "zero": false}},
  "y": {"field": "y", "type": "quantitative", "scale": {"type": "log", "domain": [0.00001, 1], "nice": false}},
  "color": {"field": "series", "type": "nominal", "legend": null,
            "scale": {"domain": ["No PAPR reduction","WHT−exp [23]","DHT−A [26]","DST−A [31]","WHT−μ [22]","DCT−μ [33]","SRC−μ [37]","SRC−Log (New)","DST−μ [32]","DHT−μ [24]","ZCT−μ [34]","DFT−μ [28]"],
                      "range": ["#000000","#A0522D","#20B8B8","#FF9EE6","#BDBD1E","#3A8F3A","#FF0000","#0000FF","#FF9A45","#00D8F0","#FF00FF","#A020F0"]}}
 }},
{"data": {"name": "notes"}, "transform": [{"filter": "datum.panel == 'b' && isValid(datum.xMark)"}],
 "mark": {"type": "point", "shape": "circle", "filled": true, "size": 30, "opacity": 1},
 "encoding": {
  "x": {"field": "xMark", "type": "quantitative", "scale": {"domain": [0, 13], "nice": false, "zero": false}},
  "y": {"field": "y", "type": "quantitative", "scale": {"type": "log", "domain": [0.00001, 1], "nice": false}},
  "color": {"field": "series", "type": "nominal", "legend": null,
            "scale": {"domain": ["No PAPR reduction","WHT−exp [23]","DHT−A [26]","DST−A [31]","WHT−μ [22]","DCT−μ [33]","SRC−μ [37]","SRC−Log (New)","DST−μ [32]","DHT−μ [24]","ZCT−μ [34]","DFT−μ [28]"],
                      "range": ["#000000","#A0522D","#20B8B8","#FF9EE6","#BDBD1E","#3A8F3A","#FF0000","#0000FF","#FF9A45","#00D8F0","#FF00FF","#A020F0"]}}
 }},
{"data": {"name": "notes"}, "transform": [{"filter": "datum.panel == 'b' && datum.dir == 'right' && !isValid(datum.xMark)"}],
 "mark": {"type": "text", "align": "right", "baseline": "middle", "fontSize": 8, "fontWeight": "bold"},
 "encoding": {
  "x": {"field": "xLabel", "type": "quantitative", "scale": {"domain": [0, 13], "nice": false, "zero": false}},
  "y": {"field": "y", "type": "quantitative", "scale": {"type": "log", "domain": [0.00001, 1], "nice": false}},
  "text": {"field": "label"},
  "color": {"field": "series", "type": "nominal", "legend": null,
            "scale": {"domain": ["No PAPR reduction","WHT−exp [23]","DHT−A [26]","DST−A [31]","WHT−μ [22]","DCT−μ [33]","SRC−μ [37]","SRC−Log (New)","DST−μ [32]","DHT−μ [24]","ZCT−μ [34]","DFT−μ [28]"],
                      "range": ["#000000","#A0522D","#20B8B8","#FF9EE6","#BDBD1E","#3A8F3A","#FF0000","#0000FF","#FF9A45","#00D8F0","#FF00FF","#A020F0"]}}
 }},
{"data": {"name": "notes"}, "transform": [{"filter": "datum.panel == 'b' && isValid(datum.xMark)"}],
 "mark": {"type": "text", "align": "right", "baseline": "middle", "fontSize": 8, "fontWeight": "bold", "lineBreak": "\n", "lineHeight": 11, "dy": -5.5},
 "encoding": {
  "x": {"field": "xLabel", "type": "quantitative", "scale": {"domain": [0, 13], "nice": false, "zero": false}},
  "y": {"field": "y", "type": "quantitative", "scale": {"type": "log", "domain": [0.00001, 1], "nice": false}},
  "text": {"field": "label"},
  "color": {"field": "series", "type": "nominal", "legend": null,
            "scale": {"domain": ["No PAPR reduction","WHT−exp [23]","DHT−A [26]","DST−A [31]","WHT−μ [22]","DCT−μ [33]","SRC−μ [37]","SRC−Log (New)","DST−μ [32]","DHT−μ [24]","ZCT−μ [34]","DFT−μ [28]"],
                      "range": ["#000000","#A0522D","#20B8B8","#FF9EE6","#BDBD1E","#3A8F3A","#FF0000","#0000FF","#FF9A45","#00D8F0","#FF00FF","#A020F0"]}}
 }},
{"data": {"name": "notes"}, "transform": [{"filter": "datum.panel == 'b' && datum.dir == 'left'"}],
 "mark": {"type": "text", "align": "left", "baseline": "middle", "fontSize": 8, "fontWeight": "bold"},
 "encoding": {
  "x": {"field": "xLabel", "type": "quantitative", "scale": {"domain": [0, 13], "nice": false, "zero": false}},
  "y": {"field": "y", "type": "quantitative", "scale": {"type": "log", "domain": [0.00001, 1], "nice": false}},
  "text": {"field": "label"},
  "color": {"field": "series", "type": "nominal", "legend": null,
            "scale": {"domain": ["No PAPR reduction","WHT−exp [23]","DHT−A [26]","DST−A [31]","WHT−μ [22]","DCT−μ [33]","SRC−μ [37]","SRC−Log (New)","DST−μ [32]","DHT−μ [24]","ZCT−μ [34]","DFT−μ [28]"],
                      "range": ["#000000","#A0522D","#20B8B8","#FF9EE6","#BDBD1E","#3A8F3A","#FF0000","#0000FF","#FF9A45","#00D8F0","#FF00FF","#A020F0"]}}
 }}
]
}
],
"spacing": 52,
"bounds": "flush",
"resolve": {"scale": {"color": "independent", "strokeDash": "independent", "x": "independent", "y": "independent"}, "legend": {"color": "independent", "strokeDash": "independent"}, "axis": {"x": "independent", "y": "independent"}},
"config": {
 "font": "Liberation Sans",
 "view": {"stroke": "#444444", "strokeWidth": 0.8},
 "axis": {"labelFont": "Liberation Sans", "labelFontSize": 9.5, "labelColor": "#262626", "titleFont": "Liberation Sans", "titleFontSize": 9.5, "titleFontWeight": "normal", "titleColor": "#262626",
          "grid": true, "gridDash": [1, 2], "gridColor": "#aaaaaa", "gridOpacity": 0.8, "ticks": false, "domain": false, "labelPadding": 3, "titlePadding": 2},
 "axisY": {"titlePadding": 1},
 "legend": {"orient": "bottom-left", "offset": 0, "padding": 5, "fillColor": "white", "strokeColor": "#444444", "strokeWidth": 0.8,
            "symbolType": "M-1,0H3", "symbolSize": 144, "symbolStrokeWidth": 2, "labelFont": "Liberation Sans", "labelFontSize": 8.5, "labelColor": "#000000",
            "labelOffset": 16, "rowPadding": 0.4, "labelLimit": 200},
 "title": {"font": "Liberation Serif", "fontSize": 9, "fontWeight": "normal", "color": "#222222"}
}
}
